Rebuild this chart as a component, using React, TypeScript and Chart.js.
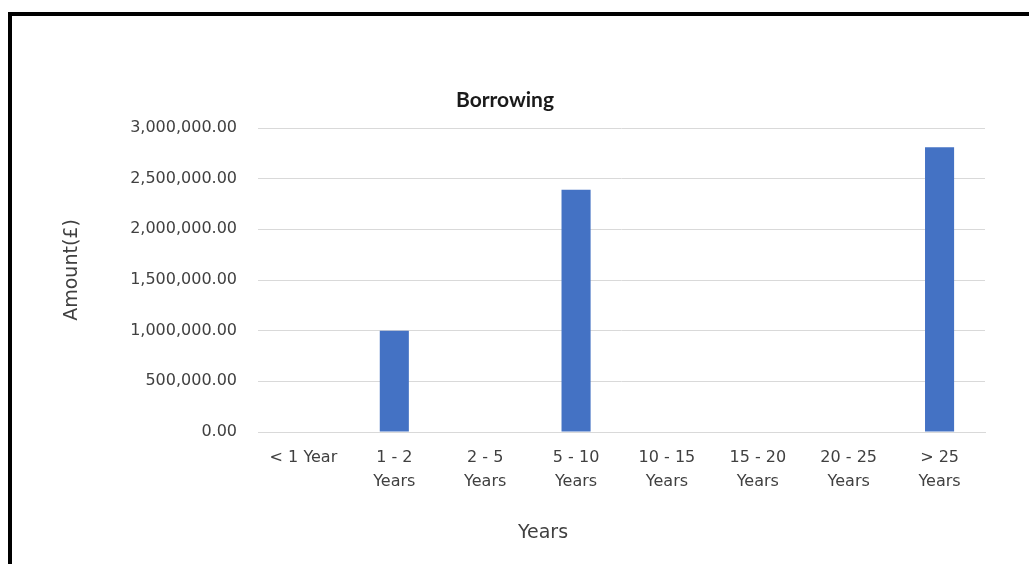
import React, { useEffect, useRef } from "react";
import { Chart, registerables } from "chart.js";

Chart.register(...registerables);

const categories: (string | string[])[] = [
  "< 1 Year",
  ["1 - 2", "Years"],
  ["2 - 5", "Years"],
  ["5 - 10", "Years"],
  ["10 - 15", "Years"],
  ["15 - 20", "Years"],
  ["20 - 25", "Years"],
  ["> 25", "Years"],
];
const borrowingValues: number[] = [0, 1000000, 0, 2390000, 0, 0, 0, 2810000];
const chartTitle = "Borrowing";
const xAxisTitle = "Years";
const yAxisTitle = "Amount(£)";

const TICK_FONT = "'DejaVu Sans', 'Open Sans', sans-serif";
const TITLE_FONT = "Lato, 'Open Sans', sans-serif";

const titlesPlugin = {
  id: "excelTitles",
  afterDraw(chart: any) {
    const ctx = chart.ctx as CanvasRenderingContext2D;
    ctx.save();
    ctx.textAlign = "center";
    ctx.textBaseline = "middle";
    // chart title
    ctx.fillStyle = "#1a1a1a";
    ctx.font = `bold 21px ${TITLE_FONT}`;
    ctx.fillText(chartTitle, 505, 100);
    // x axis title
    ctx.fillStyle = "#404040";
    ctx.font = `19px ${TICK_FONT}`;
    ctx.fillText(xAxisTitle, 543, 533);
    // y axis title
    ctx.translate(72, 270);
    ctx.rotate(-Math.PI / 2);
    ctx.fillText(yAxisTitle, 0, 0);
    ctx.restore();
  },
};

export default function App() {
  const canvasRef = useRef<HTMLCanvasElement | null>(null);

  useEffect(() => {
    const canvas = canvasRef.current;
    if (!canvas) return;
    const chart = new Chart(canvas, {
      type: "bar",
      data: {
        labels: categories,
        datasets: [
          {
            label: "Borrowing",
            data: borrowingValues,
            backgroundColor: "#4472C4",
            borderWidth: 0,
            barPercentage: 0.32,
            categoryPercentage: 1,
          },
        ],
      },
      plugins: [titlesPlugin],
      options: {
        animation: false,
        responsive: false,
        maintainAspectRatio: false,
        layout: { padding: { left: 0, right: 44, top: 128, bottom: 0 } },
        plugins: {
          legend: { display: false },
          tooltip: { enabled: false },
          title: { display: false },
        },
        scales: {
          x: {
            grid: { display: false, drawTicks: false },
            border: { display: true, color: "#d9d9d9", width: 1 },
            ticks: {
              color: "#404040",
              font: { family: TICK_FONT, size: 16, lineHeight: 1.5 },
              padding: 14,
              autoSkip: false,
              maxRotation: 0,
              minRotation: 0,
            },
            afterFit: (scale: any) => {
              scale.height = 132;
            },
          },
          y: {
            min: 0,
            max: 3000000,
            grid: { color: "#d9d9d9", drawTicks: false, lineWidth: 1 },
            border: { display: false },
            ticks: {
              stepSize: 500000,
              color: "#404040",
              font: { family: TICK_FONT, size: 16 },
              padding: 21,
              callback: (v: any) =>
                Number(v).toLocaleString("en-US", {
                  minimumFractionDigits: 2,
                  maximumFractionDigits: 2,
                }),
            },
            afterFit: (scale: any) => {
              scale.width = 258;
            },
          },
        },
      },
    });
    return () => chart.destroy();
  }, []);

  return (
    <div
      style={{
        position: "fixed",
        left: 0,
        top: 0,
        width: 1029,
        height: 564,
        overflow: "hidden",
        background: "#ffffff",
      }}
    >
      <canvas ref={canvasRef} width={1029} height={564} style={{ display: "block" }} />
      <div
        style={{
          position: "absolute",
          left: 8,
          top: 12,
          width: 4,
          height: 552,
          background: "#000",
        }}
      />
      <div
        style={{
          position: "absolute",
          left: 8,
          top: 12,
          width: 1021,
          height: 4,
          background: "#000",
        }}
      />
    </div>
  );
}
